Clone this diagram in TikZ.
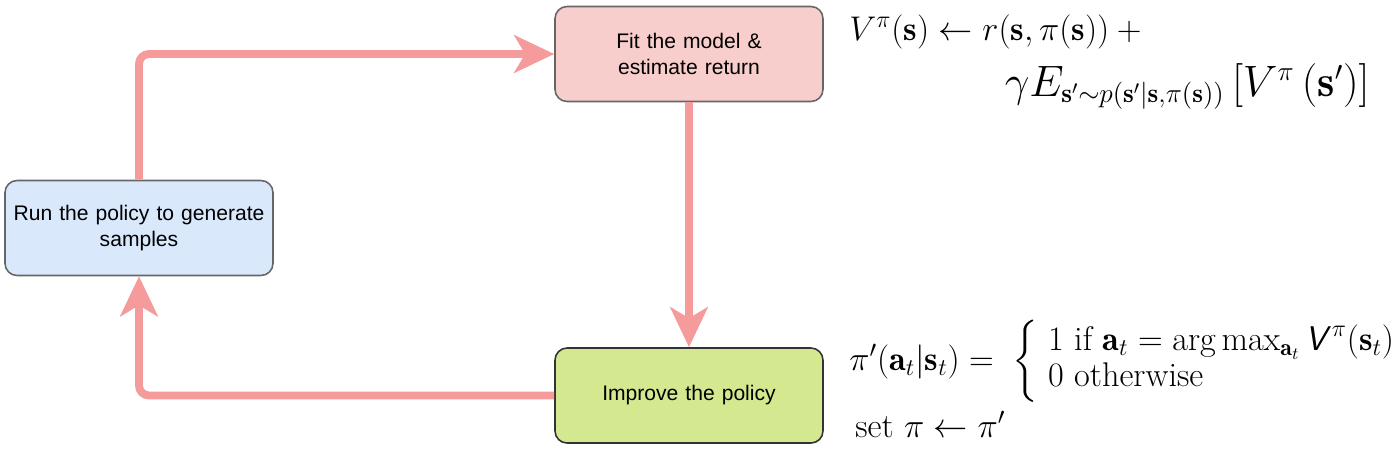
\RequirePackage{fix-cm}
\documentclass[tikz,border=0pt]{standalone}
\usepackage{amsmath,amssymb}
\usepackage{fontspec}
\newfontfamily\boxfont{Liberation Sans}
\usetikzlibrary{arrows.meta,positioning,calc}
\DeclareMathSizes{25}{25}{15.5}{11}
\definecolor{loopcol}{HTML}{F59B9C}
\definecolor{runbg}{HTML}{DAE8FC}
\definecolor{fitbg}{HTML}{F8CECC}
\definecolor{impbg}{HTML}{D4E98F}
\definecolor{edgec}{HTML}{666666}

\begin{document}
\begin{tikzpicture}[x=0.02cm,y=-0.02cm,
  n/.style={draw=edgec,line width=0.9pt,rounded corners=0.24cm,inner sep=2pt,
            minimum width=5.36cm,minimum height=1.9cm,text width=5.2cm,align=center,
            font=\boxfont\fontsize{12}{14.8}\selectfont},
  rn/.style={n,fill=runbg},
  fn/.style={n,fill=fitbg},
  imn/.style={n,fill=impbg,draw=black!80},
  eq/.style={inner sep=0pt,font=\fontsize{19.5}{24}\selectfont},
  bigeq/.style={inner sep=0pt,font=\fontsize{25}{30}\selectfont},
  ar/.style={-{Stealth[length=0.8cm,width=0.75cm,inset=0.22cm]},line width=4.5pt,
             loopcol,rounded corners=0.2cm},
]
\useasboundingbox (0,0) rectangle (1400,457);

\node[rn] (run) at (139,228) {Run the policy to generate\\ samples};
\node[fn] (fit) at (689,54) {Fit the model \&\\ estimate return};
\node[imn,below=4.9cm of fit] (improve) {Improve the policy};

\draw[ar] (run.north) |- (fit.west);
\draw[ar] (fit.south) -- (improve.north);
\draw[ar] (improve.west) -| (run.south);

% value update
\node[eq,anchor=base west] (bellman) at (849,40)
  {$V^{\pi}(\mathbf{s}) \leftarrow r(\mathbf{s},\pi(\mathbf{s})) +{}$};
\node[bigeq,anchor=base east] (bellmantail) at (1370,96)
  {$\gamma E_{\mathbf{s}'\sim p(\mathbf{s}'|\mathbf{s},\pi(\mathbf{s}))}\,[V^{\pi}\,(\mathbf{s}')]$};

% greedy policy
\node[eq,anchor=base west] (greedy) at (849,370)
  {\renewcommand{\arraystretch}{0.86}%
   $\pi'(\mathbf{a}_t|\mathbf{s}_t) = \;\left\{\begin{array}{@{\;}l@{}}
     1 \text{ if } \mathbf{a}_t = \arg\max_{\mathbf{a}_t} \textsf{\textit{V}}^{\pi}(\mathbf{s}_t)\\
     0 \text{ otherwise}\end{array}\right.$};
\node[eq,anchor=base west] (setpi) at (855,437) {set $\pi \leftarrow \pi'$};
\end{tikzpicture}
\end{document}
